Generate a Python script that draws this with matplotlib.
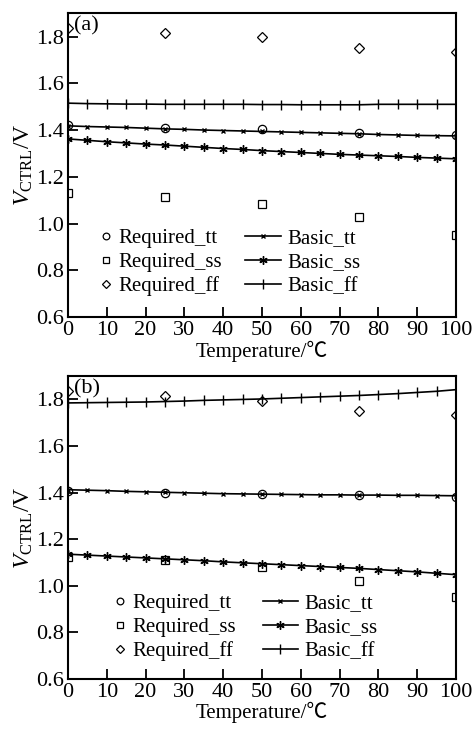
# -----------------------------
# SETUP
# -----------------------------
import numpy as np
import matplotlib
matplotlib.use("Agg")
import matplotlib.pyplot as plt

plt.rcParams["font.family"] = ["Liberation Serif", "Noto Sans CJK SC"]
plt.rcParams["mathtext.fontset"] = "custom"
plt.rcParams["mathtext.rm"] = "Liberation Serif"
plt.rcParams["mathtext.it"] = "Liberation Serif:italic"

# -----------------------------
# DATA
# -----------------------------
temp_req = [0, 25, 50, 75, 100]
temp_basic = [0, 5, 10, 15, 20, 25, 30, 35, 40, 45, 50,
              55, 60, 65, 70, 75, 80, 85, 90, 95, 100]

# panel (a)
a_req_tt = [1.420, 1.408, 1.404, 1.387, 1.379]
a_req_ss = [1.132, 1.115, 1.085, 1.026, 0.953]
a_req_ff = [1.838, 1.817, 1.796, 1.749, 1.732]
a_basic_tt = [1.418, 1.415, 1.413, 1.411, 1.408, 1.405, 1.403, 1.400, 1.398, 1.396, 1.394,
              1.392, 1.390, 1.388, 1.386, 1.384, 1.381, 1.379, 1.377, 1.376, 1.375]
a_basic_ss = [1.362, 1.356, 1.350, 1.345, 1.340, 1.336, 1.331, 1.326, 1.321, 1.317, 1.312,
              1.308, 1.304, 1.300, 1.296, 1.293, 1.290, 1.287, 1.283, 1.280, 1.277]
a_basic_ff = [1.515, 1.513, 1.512, 1.511, 1.511, 1.510, 1.510, 1.510, 1.510, 1.510, 1.509,
              1.509, 1.508, 1.508, 1.508, 1.508, 1.510, 1.510, 1.510, 1.510, 1.510]

# panel (b)
b_req_tt = [1.405, 1.400, 1.395, 1.388, 1.380]
b_req_ss = [1.125, 1.108, 1.082, 1.020, 0.950]
b_req_ff = [1.835, 1.815, 1.795, 1.750, 1.735]
b_basic_tt = [1.412, 1.410, 1.408, 1.405, 1.403, 1.401, 1.399, 1.397, 1.395, 1.394, 1.393,
              1.392, 1.391, 1.390, 1.390, 1.389, 1.389, 1.388, 1.388, 1.387, 1.386]
b_basic_ss = [1.135, 1.131, 1.127, 1.123, 1.119, 1.115, 1.111, 1.107, 1.102, 1.098, 1.094,
              1.090, 1.086, 1.082, 1.078, 1.074, 1.069, 1.064, 1.059, 1.053, 1.047]
b_basic_ff = [1.785, 1.786, 1.787, 1.788, 1.789, 1.791, 1.793, 1.796, 1.798, 1.800, 1.802,
              1.805, 1.808, 1.811, 1.814, 1.817, 1.821, 1.825, 1.830, 1.835, 1.842]

panels = [
    ("(a)", a_req_tt, a_req_ss, a_req_ff, a_basic_tt, a_basic_ss, a_basic_ff),
    ("(b)", b_req_tt, b_req_ss, b_req_ff, b_basic_tt, b_basic_ss, b_basic_ff),
]

# -----------------------------
# PLOT
# -----------------------------
fig = plt.figure(figsize=(4.72, 7.29), dpi=100)
ax_a = fig.add_axes([0.144, 0.565, 0.822, 0.417])
ax_b = fig.add_axes([0.144, 0.069, 0.822, 0.415])

leg_pos = {
    "(a)": ((0.055, 0.325), (0.43, 0.325)),
    "(b)": ((0.09, 0.315), (0.475, 0.315)),
}

for ax, (tag, r_tt, r_ss, r_ff, b_tt, b_ss, b_ff) in zip([ax_a, ax_b], panels):
    mk = dict(linestyle="none", markerfacecolor="none", markeredgecolor="black",
              markeredgewidth=0.9, markersize=6)
    h1, = ax.plot(temp_req, r_tt, marker="o", label="Required_tt", **mk)
    h2, = ax.plot(temp_req, r_ss, marker="s", label="Required_ss", **mk)
    h3, = ax.plot(temp_req, r_ff, marker="D", label="Required_ff",
                  **{**mk, "markersize": 5})

    ln = dict(color="black", linewidth=1.2, markeredgewidth=1.0)
    h4, = ax.plot(temp_basic, b_tt, marker="x", markersize=3.5, label="Basic_tt", **ln)
    h5, = ax.plot(temp_basic, b_ss, marker=(6, 2, 0), markersize=6, label="Basic_ss", **ln)
    h6, = ax.plot(temp_basic, b_ff, marker="|", markersize=7, label="Basic_ff", **ln)

    ax.set_xlim(0, 100)
    ax.set_ylim(0.6, 1.9)
    ax.set_xticks(np.arange(0, 101, 10))
    ax.set_yticks([0.6, 0.8, 1.0, 1.2, 1.4, 1.6, 1.8])
    ax.set_yticklabels(["0.6", "0.8", "1.0", "1.2", "1.4", "1.6", "1.8"])
    ax.tick_params(direction="in", length=7, width=1.3, labelsize=16,
                   top=False, right=False, pad=3)
    for s in ax.spines.values():
        s.set_linewidth(1.5)

    ax.set_xlabel("Temperature/℃", fontsize=15, labelpad=0)
    ax.set_ylabel(r"$V_{\rm CTRL}$/V", fontsize=17, labelpad=1)
    ax.text(0.015, 0.99, tag, transform=ax.transAxes, fontsize=16,
            ha="left", va="top")

    p1, p2 = leg_pos[tag]
    leg1 = ax.legend(handles=[h1, h2, h3], loc="upper left", bbox_to_anchor=p1,
                     frameon=False, fontsize=15, handlelength=0.6,
                     handletextpad=0.3, labelspacing=0.2, borderpad=0,
                     markerscale=0.8)
    ax.add_artist(leg1)
    ax.legend(handles=[h4, h5, h6], loc="upper left", bbox_to_anchor=p2,
              frameon=False, fontsize=15, handlelength=1.7,
              handletextpad=0.3, labelspacing=0.2, borderpad=0)

fig.savefig("out.png", dpi=100)
